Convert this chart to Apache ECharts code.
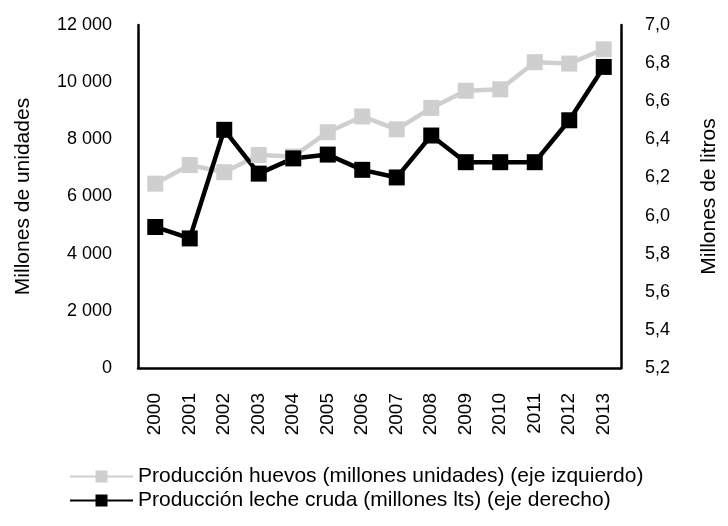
<!DOCTYPE html>
<html>
<head>
<meta charset="utf-8">
<script src="https://cdn.jsdelivr.net/npm/echarts@6/dist/echarts.min.js"></script>
<style>html,body{margin:0;padding:0;background:#fff}#c{width:728px;height:526px}</style>
</head>
<body>
<div id="c"></div>
<script>
var years = ['2000','2001','2002','2003','2004','2005','2006','2007','2008','2009','2010','2011','2012','2013'];
var huevos = [6450, 7100, 6850, 7450, 7400, 8250, 8800, 8350, 9100, 9700, 9750, 10700, 10650, 11150];
var leche = [5.94, 5.88, 6.45, 6.22, 6.30, 6.32, 6.24, 6.20, 6.42, 6.28, 6.28, 6.28, 6.50, 6.78];
var leftTicks = {min: 0, max: 12000, interval: 2000};
var rightTicks = {min: 5.2, max: 7.0, interval: 0.2};
var nameHuevos = 'Producción huevos (millones unidades) (eje izquierdo)';
var nameLeche = 'Producción leche cruda (millones lts) (eje derecho)';

var font = 'Liberation Sans, Arial, sans-serif';
var chart = echarts.init(document.getElementById('c'));
chart.setOption({
  animation: false,
  textStyle: {fontFamily: font},
  grid: {left: 138, right: 99, top: 25, bottom: 158},
  legend: {
    orient: 'vertical', left: 64, top: 461, itemGap: 3,
    itemWidth: 63, itemHeight: 15,
    textStyle: {fontSize: 21, lineHeight: 21, color: '#000', fontFamily: font},
    data: [nameHuevos, nameLeche]
  },
  xAxis: {
    type: 'category', data: years, boundaryGap: true,
    axisLine: {lineStyle: {color: '#000', width: 2.5}},
    axisTick: {show: false},
    axisLabel: {rotate: 90, fontSize: 19, color: '#000', margin: 25, fontFamily: font}
  },
  yAxis: [{
    type: 'value', min: leftTicks.min, max: leftTicks.max, interval: leftTicks.interval,
    name: 'Millones de unidades', nameLocation: 'middle', nameGap: 104, nameRotate: 90,
    nameTextStyle: {fontSize: 21, color: '#000', fontFamily: font},
    axisLine: {show: true, lineStyle: {color: '#000', width: 2.5}},
    axisTick: {show: false}, splitLine: {show: false},
    axisLabel: {fontSize: 18, color: '#000', margin: 26, fontFamily: font,
      formatter: function (v) { return String(v).replace(/\B(?=(\d{3})+(?!\d))/g, ' '); }}
  }, {
    type: 'value', min: rightTicks.min, max: rightTicks.max, interval: rightTicks.interval,
    name: 'Millones de litros', nameLocation: 'middle', nameGap: 78, nameRotate: 90,
    nameTextStyle: {fontSize: 21, color: '#000', fontFamily: font},
    axisLine: {show: true, lineStyle: {color: '#000', width: 2.5}},
    axisTick: {show: false}, splitLine: {show: false},
    axisLabel: {fontSize: 18, color: '#000', margin: 24, fontFamily: font,
      formatter: function (v) { return v.toFixed(1).replace('.', ','); }}
  }],
  series: [{
    name: nameHuevos, type: 'line', yAxisIndex: 0, data: huevos,
    symbol: 'rect', symbolSize: 16,
    lineStyle: {color: '#cfcfcf', width: 4.5},
    itemStyle: {color: '#cfcfcf'}
  }, {
    name: nameLeche, type: 'line', yAxisIndex: 1, data: leche,
    symbol: 'rect', symbolSize: 16,
    lineStyle: {color: '#000', width: 4.5},
    itemStyle: {color: '#000'}
  }]
});
</script>
</body>
</html>
